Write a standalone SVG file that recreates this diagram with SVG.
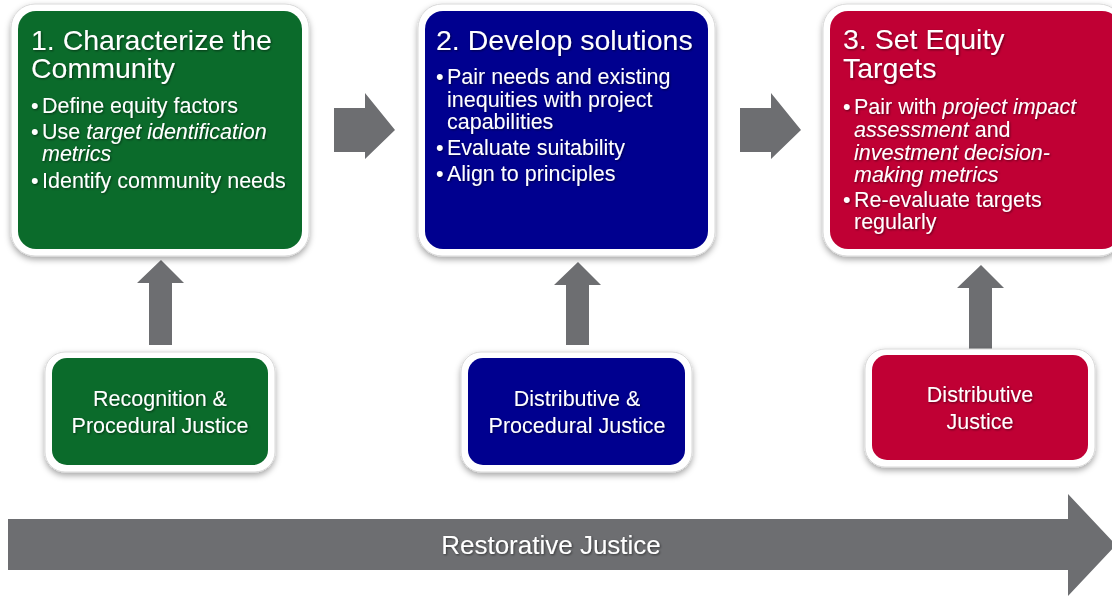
<svg xmlns="http://www.w3.org/2000/svg" width="1112" height="596" viewBox="0 0 1112 596">
<defs>
<filter id="sh" x="-10%" y="-10%" width="120%" height="125%">
<feDropShadow dx="0" dy="3" stdDeviation="3" flood-color="#000" flood-opacity="0.35"/>
</filter>
<filter id="ts" x="-5%" y="-20%" width="110%" height="140%">
<feDropShadow dx="1" dy="1" stdDeviation="0.8" flood-color="#000" flood-opacity="0.5"/>
</filter>
</defs>
<style>
.frame{fill:#fff;stroke:#d9d9d9;stroke-width:1}
.green{fill:#0b6b2b}
.blue{fill:#00008f}
.red{fill:#c00034}
.arr{fill:#6d6e71}
text{font-family:"Liberation Sans",Arial,sans-serif;fill:#fff}
.title{font-size:28.5px}
.bul{font-size:21.5px}
.lab{font-size:21.5px;text-anchor:middle}
.big{font-size:26px;text-anchor:middle}
.it{font-style:italic}
</style>
<rect width="1112" height="596" fill="#fff"/>
<g id="connectors">
<polygon class="arr" points="334,108 365,108 365,93 395,130 365,159 365,152 334,152"/>
<polygon class="arr" points="740,108 771,108 771,93 801,130 771,159 771,152 740,152"/>
<polygon class="arr" points="149,345 172,345 172,283 184,283 161,260 137,283 149,283"/>
<polygon class="arr" points="566,345 589,345 589,285 601,285 578,262 554,285 566,285"/>
<polygon class="arr" points="969,350 992,350 992,288 1004,288 981,265 957,288 969,288"/>
</g>
<g id="restorative">
<polygon class="arr" points="8,519 1068,519 1068,494 1116,545 1068,596 1068,570 8,570"/>
<text class="big" x="551" y="554" filter="url(#ts)">Restorative Justice</text>
</g>
<g id="step1">
<rect class="frame" x="11" y="4" width="298" height="252" rx="24" filter="url(#sh)"/>
<rect class="green" x="18" y="11" width="284" height="238" rx="18"/>
<g filter="url(#ts)">
<text class="title"><tspan x="31" y="50">1. Characterize the</tspan><tspan x="31" y="78">Community</tspan></text>
<text class="bul" x="31" y="113">•</text><text class="bul" x="42" y="113">Define equity factors</text>
<text class="bul"><tspan x="31" y="139">•</tspan><tspan x="42" y="139">Use </tspan><tspan class="it">target identification</tspan><tspan class="it" x="42" y="161">metrics</tspan></text>
<text class="bul" x="31" y="188">•</text><text class="bul" x="42" y="188">Identify community needs</text>
</g>
</g>
<g id="step2">
<rect class="frame" x="418" y="4" width="297" height="252" rx="24" filter="url(#sh)"/>
<rect class="blue" x="425" y="11" width="283" height="238" rx="18"/>
<g filter="url(#ts)">
<text class="title" x="436" y="50">2. Develop solutions</text>
<text class="bul"><tspan x="436" y="84">•</tspan><tspan x="447" y="84">Pair needs and existing</tspan><tspan x="447" y="107">inequities with project</tspan><tspan x="447" y="129">capabilities</tspan></text>
<text class="bul" x="436" y="155">•</text><text class="bul" x="447" y="155">Evaluate suitability</text>
<text class="bul" x="436" y="181">•</text><text class="bul" x="447" y="181">Align to principles</text>
</g>
</g>
<g id="step3">
<rect class="frame" x="823" y="4" width="300" height="252" rx="24" filter="url(#sh)"/>
<rect class="red" x="830" y="11" width="290" height="238" rx="18"/>
<g filter="url(#ts)">
<text class="title"><tspan x="843" y="49">3. Set Equity</tspan><tspan x="843" y="78">Targets</tspan></text>
<text class="bul"><tspan x="843" y="114">•</tspan><tspan x="854" y="114">Pair with </tspan><tspan class="it">project impact</tspan><tspan class="it" x="854" y="137">assessment </tspan><tspan>and</tspan><tspan class="it" x="854" y="160">investment decision-</tspan><tspan class="it" x="854" y="182">making metrics</tspan></text>
<text class="bul"><tspan x="843" y="207">•</tspan><tspan x="854" y="207">Re-evaluate targets</tspan><tspan x="854" y="229">regularly</tspan></text>
</g>
</g>
<g id="justice1">
<rect class="frame" x="45" y="352" width="230" height="120" rx="20" filter="url(#sh)"/>
<rect class="green" x="52" y="358" width="216" height="107" rx="15"/>
<text class="lab" filter="url(#ts)"><tspan x="160" y="406">Recognition &amp;</tspan><tspan x="160" y="433">Procedural Justice</tspan></text>
</g>
<g id="justice2">
<rect class="frame" x="461" y="352" width="231" height="120" rx="20" filter="url(#sh)"/>
<rect class="blue" x="468" y="358" width="217" height="107" rx="15"/>
<text class="lab" filter="url(#ts)"><tspan x="577" y="406">Distributive &amp;</tspan><tspan x="577" y="433">Procedural Justice</tspan></text>
</g>
<g id="justice3">
<rect class="frame" x="865" y="349" width="230" height="118" rx="20" filter="url(#sh)"/>
<rect class="red" x="872" y="355" width="216" height="105" rx="15"/>
<text class="lab" filter="url(#ts)"><tspan x="980" y="402">Distributive</tspan><tspan x="980" y="429">Justice</tspan></text>
</g>
</svg>
